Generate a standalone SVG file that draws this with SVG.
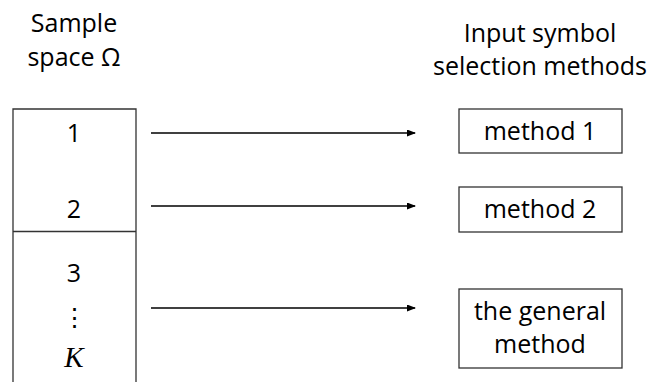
<svg xmlns="http://www.w3.org/2000/svg" width="653" height="382" viewBox="0 0 653 382">
<style>
text{font-family:"Open Sans","Liberation Sans",sans-serif;font-size:25px;fill:#000;text-anchor:middle}
.box{fill:#fff;stroke:#333;stroke-width:1.3}
.ln{stroke:#333;stroke-width:1.3;fill:none}
.arr{stroke:#000;stroke-width:1.3;fill:none;marker-end:url(#ah)}
</style>
<defs>
<marker id="ah" markerWidth="9" markerHeight="7" refX="8" refY="3.5" orient="auto" markerUnits="userSpaceOnUse">
<path d="M0,0L9,3.5L0,7z" fill="#000"/>
</marker>
</defs>
<g id="header-left">
<text x="74" y="32">Sample</text>
<text x="74" y="66">space Ω</text>
</g>
<g id="header-right">
<text x="540" y="42">Input symbol</text>
<text x="540" y="75">selection methods</text>
</g>
<g id="sample-space">
<path class="ln" d="M13,382V109H136V382M13,231.5H136"/>
<text x="74" y="142">1</text>
<text x="74" y="218">2</text>
<text x="74" y="282">3</text>
<text x="74" y="326">⋮</text>
<text x="74" y="367" style="font-family:'Liberation Serif',serif;font-style:italic;font-size:29px">K</text>
</g>
<g id="method1">
<rect class="box" x="459" y="109" width="163" height="44"/>
<text x="540" y="140">method 1</text>
</g>
<g id="method2">
<rect class="box" x="459" y="187" width="163" height="45"/>
<text x="540" y="218">method 2</text>
</g>
<g id="general">
<rect class="box" x="459" y="289" width="163" height="79"/>
<text x="540" y="320">the general</text>
<text x="540" y="353">method</text>
</g>
<g id="connectors">
<line class="arr" x1="151" y1="133" x2="415" y2="133"/>
<line class="arr" x1="151" y1="206" x2="415" y2="206"/>
<line class="arr" x1="151" y1="308" x2="415" y2="308"/>
</g>
</svg>
